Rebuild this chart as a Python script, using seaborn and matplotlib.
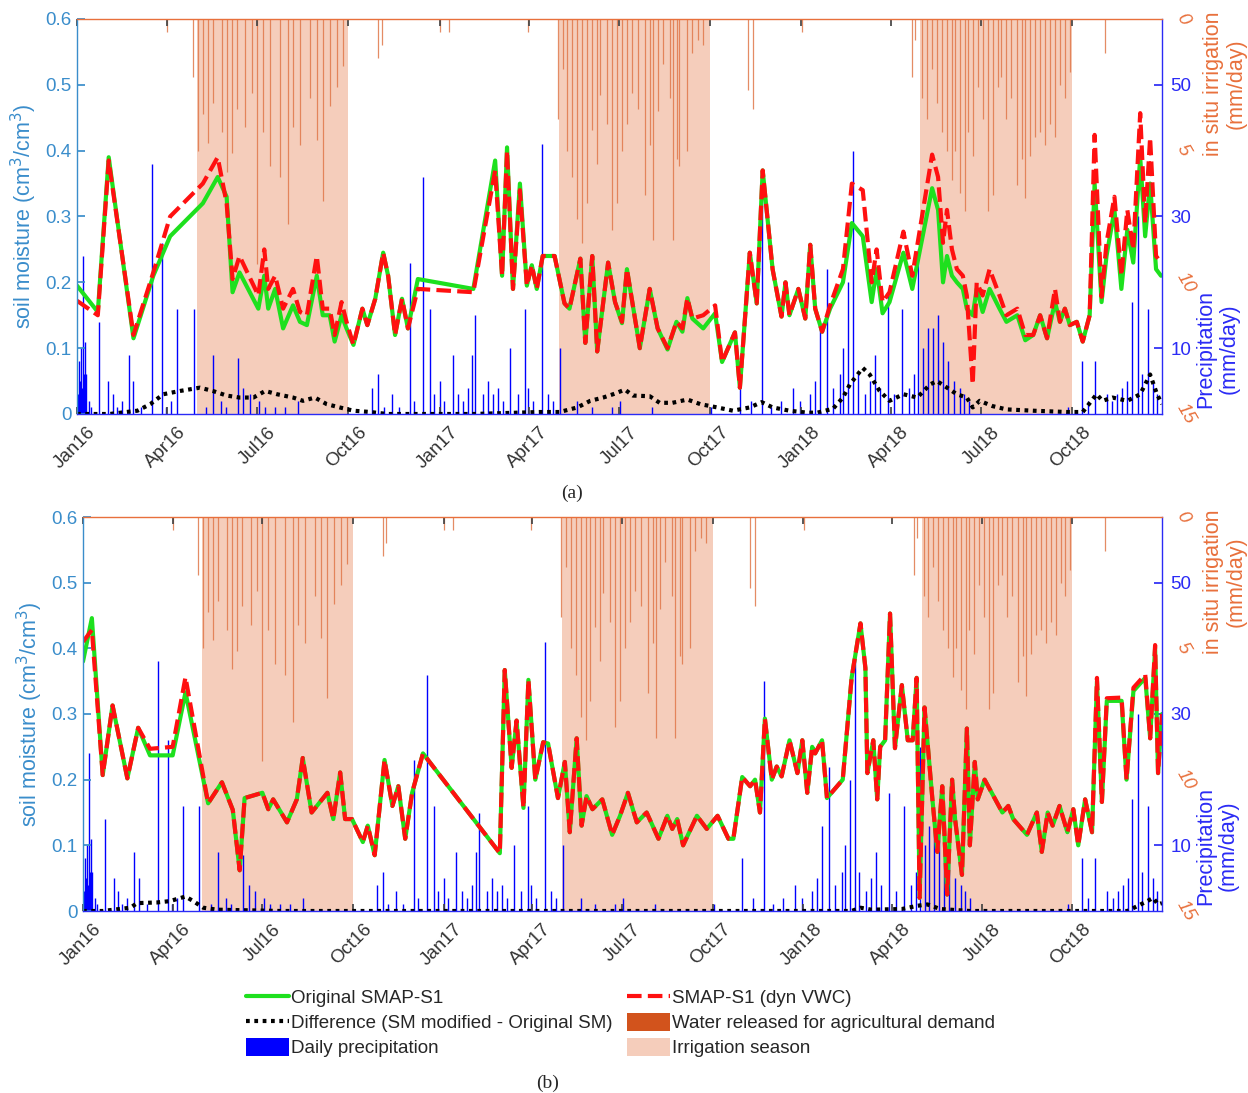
import numpy as np
import pandas as pd
import matplotlib
matplotlib.use("Agg")
import matplotlib.pyplot as plt
import matplotlib.transforms as mtrans
from matplotlib.lines import Line2D
from matplotlib.patches import Patch
import seaborn as sns

START = pd.Timestamp("2016-01-01")
N_DAYS = 1095

# ---------------- panel (a) ----------------
a_days = [0, 21, 32, 57, 77, 94, 127, 142, 151, 157,
          164, 183, 189, 193, 200, 208, 218, 225, 232, 242,
          248, 255, 260, 267, 272, 279, 288, 293, 301, 309,
          314, 321, 328, 334, 344, 400, 422, 429, 434, 440,
          447, 454, 459, 464, 470, 482, 492, 497, 508, 513,
          520, 525, 536, 543, 550, 555, 568, 578, 586, 596,
          605, 611, 616, 621, 632, 644, 651, 664, 669, 679,
          686, 692, 702, 711, 715, 719, 728, 735, 740, 745,
          752, 760, 773, 782, 793, 802, 807, 813, 820, 834,
          843, 863, 869, 874, 878, 883, 888, 894, 898, 904,
          908, 914, 921, 931, 938, 949, 957, 965, 972, 979,
          987, 992, 997, 1002, 1009, 1015, 1022, 1027, 1034, 1039,
          1047, 1054, 1060, 1066, 1073, 1078, 1083, 1089, 1094]
a_orig = [0.195, 0.155, 0.39, 0.115, 0.21, 0.27, 0.32, 0.36, 0.33, 0.185,
          0.215, 0.16, 0.21, 0.16, 0.19, 0.13, 0.165, 0.14, 0.135, 0.21,
          0.15, 0.15, 0.11, 0.15, 0.13, 0.105, 0.16, 0.135, 0.175, 0.245,
          0.21, 0.12, 0.175, 0.13, 0.205, 0.19, 0.385, 0.21, 0.405, 0.19,
          0.35, 0.195, 0.226, 0.19, 0.24, 0.24, 0.168, 0.16, 0.236, 0.108,
          0.24, 0.095, 0.23, 0.17, 0.138, 0.22, 0.10, 0.19, 0.13, 0.098,
          0.14, 0.125, 0.176, 0.145, 0.13, 0.153, 0.079, 0.124, 0.04, 0.245,
          0.168, 0.37, 0.22, 0.148, 0.2, 0.15, 0.19, 0.145, 0.257, 0.16,
          0.125, 0.16, 0.2, 0.29, 0.27, 0.17, 0.22, 0.153, 0.17, 0.245,
          0.19, 0.343, 0.31, 0.2, 0.24, 0.21, 0.2, 0.19, 0.16, 0.15,
          0.19, 0.155, 0.19, 0.16, 0.14, 0.15, 0.112, 0.12, 0.15, 0.115,
          0.17, 0.14, 0.16, 0.135, 0.14, 0.11, 0.15, 0.35, 0.17, 0.24,
          0.31, 0.19, 0.28, 0.23, 0.39, 0.27, 0.35, 0.22, 0.21]
a_dyn = [0.172, 0.15, 0.385, 0.12, 0.215, 0.30, 0.35, 0.39, 0.32, 0.205,
         0.24, 0.18, 0.25, 0.19, 0.21, 0.16, 0.19, 0.155, 0.15, 0.24,
         0.16, 0.16, 0.12, 0.17, 0.14, 0.105, 0.16, 0.135, 0.175, 0.245,
         0.21, 0.12, 0.175, 0.13, 0.19, 0.185, 0.37, 0.21, 0.40, 0.19,
         0.34, 0.195, 0.226, 0.19, 0.24, 0.24, 0.168, 0.16, 0.236, 0.108,
         0.24, 0.095, 0.23, 0.17, 0.14, 0.22, 0.10, 0.19, 0.13, 0.10,
         0.14, 0.13, 0.176, 0.145, 0.15, 0.165, 0.079, 0.124, 0.04, 0.245,
         0.168, 0.37, 0.22, 0.148, 0.2, 0.15, 0.19, 0.145, 0.257, 0.16,
         0.125, 0.165, 0.22, 0.35, 0.34, 0.2, 0.25, 0.17, 0.185, 0.277,
         0.21, 0.394, 0.36, 0.26, 0.31, 0.25, 0.22, 0.21, 0.18, 0.045,
         0.20, 0.18, 0.22, 0.18, 0.15, 0.16, 0.12, 0.12, 0.15, 0.115,
         0.19, 0.14, 0.16, 0.135, 0.14, 0.11, 0.15, 0.424, 0.178, 0.26,
         0.33, 0.21, 0.31, 0.25, 0.457, 0.29, 0.42, 0.24, 0.23]
a_diff_days = [0, 33, 61, 74, 87, 104, 124, 137, 151, 164,
               178, 190, 202, 218, 228, 240, 252, 265, 279, 296,
               313, 340, 400, 467, 487, 505, 518, 531, 541, 553,
               561, 578, 588, 601, 616, 629, 646, 662, 679, 691,
               702, 719, 737, 747, 763, 773, 780, 793, 800, 810,
               820, 834, 848, 861, 868, 878, 888, 898, 904, 911,
               924, 938, 965, 999, 1015, 1029, 1035, 1045, 1060, 1073,
               1083, 1090, 1095]
a_diff = [0, 0, 0.005, 0.015, 0.03, 0.035, 0.04, 0.035, 0.028, 0.025,
          0.025, 0.035, 0.03, 0.025, 0.02, 0.025, 0.015, 0.01, 0.005, 0.003,
          0.0, 0.0, 0.0, 0.003, 0.003, 0.01, 0.02, 0.025, 0.03, 0.037,
          0.028, 0.027, 0.017, 0.017, 0.022, 0.015, 0.01, 0.005, 0.01, 0.018,
          0.01, 0.005, 0.002, 0.002, 0.008, 0.025, 0.045, 0.07, 0.06, 0.035,
          0.02, 0.03, 0.025, 0.045, 0.05, 0.04, 0.03, 0.025, 0.01, 0.02,
          0.012, 0.007, 0.005, 0.003, 0.003, 0.03, 0.02, 0.025, 0.02, 0.03,
          0.06, 0.03, 0.015]

# ---------------- panel (b) ----------------
b_days = [0, 9, 20, 30, 45, 56, 68, 91, 104, 127,
          141, 152, 159, 164, 182, 188, 193, 207, 217, 223,
          232, 248, 254, 261, 266, 273, 284, 289, 296, 306,
          314, 320, 327, 334, 345, 423, 428, 435, 440, 447,
          452, 459, 467, 472, 482, 489, 494, 501, 506, 511,
          517, 527, 537, 545, 553, 562, 572, 584, 593, 598,
          603, 609, 623, 633, 644, 655, 660, 669, 677, 682,
          687, 692, 699, 704, 709, 717, 725, 730, 735, 740,
          743, 750, 755, 771, 780, 789, 794, 796, 802, 806,
          809, 814, 819, 824, 831, 837, 842, 846, 849, 854,
          862, 867, 872, 877, 882, 885, 892, 897, 900, 905,
          908, 915, 933, 939, 944, 958, 968, 973, 979, 984,
          991, 999, 1005, 1010, 1017, 1024, 1029, 1034, 1039, 1054,
          1059, 1066, 1078, 1083, 1088, 1091, 1095]
b_dyn = [0.41, 0.428, 0.207, 0.313, 0.202, 0.279, 0.247, 0.25, 0.356, 0.164,
         0.196, 0.154, 0.062, 0.172, 0.18, 0.155, 0.17, 0.135, 0.17, 0.233,
         0.15, 0.18, 0.14, 0.211, 0.14, 0.14, 0.105, 0.13, 0.085, 0.23,
         0.16, 0.19, 0.11, 0.18, 0.24, 0.088, 0.367, 0.218, 0.29, 0.157,
         0.352, 0.2, 0.257, 0.255, 0.172, 0.227, 0.12, 0.263, 0.13, 0.175,
         0.155, 0.17, 0.116, 0.145, 0.18, 0.135, 0.15, 0.11, 0.145, 0.125,
         0.14, 0.10, 0.145, 0.125, 0.145, 0.11, 0.11, 0.204, 0.19, 0.20,
         0.15, 0.293, 0.2, 0.22, 0.205, 0.26, 0.21, 0.26, 0.18, 0.25,
         0.24, 0.26, 0.172, 0.2, 0.355, 0.438, 0.37, 0.21, 0.26, 0.17,
         0.25, 0.26, 0.453, 0.248, 0.344, 0.26, 0.26, 0.355, 0.02, 0.31,
         0.17, 0.09, 0.19, 0.025, 0.2, 0.14, 0.055, 0.278, 0.1, 0.227,
         0.17, 0.2, 0.15, 0.16, 0.14, 0.116, 0.15, 0.09, 0.15, 0.13,
         0.16, 0.12, 0.155, 0.10, 0.17, 0.12, 0.355, 0.166, 0.324, 0.325,
         0.2, 0.34, 0.36, 0.263, 0.405, 0.21, 0.30]
b_orig = [0.38, 0.446, 0.207, 0.313, 0.202, 0.279, 0.237, 0.237, 0.333, 0.164,
          0.196, 0.154, 0.062, 0.172, 0.18, 0.155, 0.17, 0.135, 0.17, 0.233,
          0.15, 0.18, 0.14, 0.211, 0.14, 0.14, 0.105, 0.13, 0.085, 0.23,
          0.16, 0.19, 0.11, 0.18, 0.24, 0.088, 0.367, 0.218, 0.29, 0.157,
          0.352, 0.2, 0.257, 0.255, 0.172, 0.227, 0.12, 0.263, 0.13, 0.175,
          0.155, 0.17, 0.116, 0.145, 0.18, 0.135, 0.15, 0.11, 0.145, 0.125,
          0.14, 0.10, 0.145, 0.125, 0.145, 0.11, 0.11, 0.204, 0.19, 0.20,
          0.15, 0.293, 0.2, 0.22, 0.205, 0.26, 0.21, 0.26, 0.18, 0.25,
          0.24, 0.26, 0.172, 0.2, 0.355, 0.438, 0.37, 0.21, 0.26, 0.17,
          0.25, 0.26, 0.453, 0.248, 0.344, 0.26, 0.26, 0.355, 0.02, 0.31,
          0.17, 0.09, 0.19, 0.025, 0.2, 0.14, 0.055, 0.278, 0.1, 0.227,
          0.17, 0.2, 0.15, 0.16, 0.14, 0.116, 0.15, 0.09, 0.15, 0.13,
          0.16, 0.12, 0.155, 0.10, 0.17, 0.12, 0.35, 0.166, 0.32, 0.32,
          0.2, 0.335, 0.355, 0.263, 0.40, 0.21, 0.30]
b_diff_days = [0, 20, 48, 55, 75, 88, 104, 112, 122, 136,
               200, 780, 789, 800, 831, 847, 857, 870, 900, 1060,
               1080, 1086, 1091, 1095]
b_diff = [0, 0, 0.005, 0.012, 0.013, 0.015, 0.022, 0.015, 0.005, 0.002,
          0.0, 0.0, 0.005, 0.002, 0.003, 0.008, 0.01, 0.003, 0.0, 0.0,
          0.015, 0.02, 0.01, 0.012]

# ---------------- shared forcing data ----------------
precip_days = [1, 2, 3, 4, 5, 6, 7, 8, 9, 12,
               14, 22, 31, 36, 40, 45, 52, 57, 65, 76,
               86, 90, 95, 101, 118, 130, 137, 145, 150, 162,
               168, 175, 184, 190, 200, 210, 223, 298, 304, 310,
               318, 325, 336, 340, 349, 356, 360, 366, 370, 379,
               385, 390, 395, 399, 402, 410, 415, 420, 425, 430,
               437, 445, 452, 455, 460, 469, 475, 480, 487, 505,
               520, 540, 548, 580, 640, 669, 680, 691, 700, 710,
               723, 730, 740, 745, 750, 757, 763, 770, 773, 778,
               783, 788, 795, 800, 805, 810, 818, 825, 833, 840,
               845, 849, 854, 859, 864, 869, 874, 879, 885, 891,
               895, 900, 1000, 1014, 1020, 1027, 1039, 1045, 1050, 1055,
               1060, 1065, 1071, 1075, 1081, 1086, 1090]
precip_mm = [3, 8, 5, 10, 4, 24, 6, 11, 6, 2,
             1, 14, 5, 3, 1, 2, 9, 5, 1, 38,
             26, 1, 2, 16, 16, 1, 9, 2, 1, 8.5,
             4, 3, 2, 1, 1, 1, 2, 4, 6, 1,
             3, 1, 23, 2, 36, 16, 3, 5, 2, 9,
             3, 2, 4, 9, 15, 3, 5, 3, 4, 2,
             10, 3, 16, 4, 2, 41, 3, 2, 10, 2,
             1, 1, 2, 1, 1, 8, 2, 35, 1, 2,
             4, 2, 3, 5, 13, 22, 4, 6, 10, 20,
             40, 6, 3, 5, 9, 4, 18, 3, 16, 4,
             6, 25, 10, 13, 13, 15, 11, 8, 5, 4,
             3, 2, 1, 8, 2, 8, 3, 2, 3, 4,
             5, 17, 30, 6, 16, 5, 3]
irr_days = [91, 117, 122, 127, 132, 137, 146, 151, 156, 161,
            170, 177, 182, 188, 195, 205, 213, 218, 225, 235,
            242, 248, 255, 262, 268, 304, 308, 366, 375, 455,
            485, 490, 495, 500, 505, 510, 515, 520, 525, 528,
            535, 540, 545, 550, 555, 560, 566, 573, 578, 581,
            586, 591, 598, 601, 606, 608, 616, 621, 627, 632,
            677, 682, 732, 843, 846, 853, 858, 863, 868, 873,
            878, 883, 886, 891, 896, 899, 904, 909, 914, 919,
            924, 929, 933, 938, 943, 949, 954, 957, 962, 967,
            972, 977, 982, 987, 992, 997, 1002, 1037]
irr_mm = [0.5, 2.2, 5.0, 3.6, 4.7, 3.2, 4.3, 5.8, 5.1, 3.4,
          4.1, 2.8, 9.3, 4.3, 5.6, 6.0, 7.8, 4.1, 4.8, 3.0,
          4.6, 6.9, 3.3, 2.6, 1.8, 1.5, 1.0, 0.5, 0.5, 0.5,
          3.8, 1.9, 5.0, 6.0, 7.6, 8.5, 7.0, 4.2, 5.5, 2.9,
          4.0, 8.0, 7.0, 5.0, 4.0, 2.8, 3.4, 6.7, 4.8, 8.4,
          3.5, 1.7, 3.0, 8.4, 5.3, 5.6, 5.0, 1.3, 0.8, 1.0,
          2.7, 3.4, 0.5, 2.2, 0.8, 3.0, 3.8, 1.9, 3.2, 4.3,
          5.0, 6.1, 5.0, 6.6, 7.3, 4.3, 5.2, 2.6, 3.8, 7.3,
          6.7, 2.6, 2.2, 3.8, 3.0, 6.3, 5.3, 6.8, 5.2, 4.5,
          4.3, 4.8, 4.0, 4.5, 2.5, 3.0, 2.0, 1.3]
season_start = ["2016-05-01", "2017-05-01", "2018-05-01"]
season_end = ["2016-10-01", "2017-10-01", "2018-10-01"]

tick_dates = ["2016-01-01", "2016-04-01", "2016-07-01", "2016-10-01",
              "2017-01-01", "2017-04-01", "2017-07-01", "2017-10-01",
              "2018-01-01", "2018-04-01", "2018-07-01", "2018-10-01"]
tick_labels = ["Jan16", "Apr16", "Jul16", "Oct16", "Jan17", "Apr17",
               "Jul17", "Oct17", "Jan18", "Apr18", "Jul18", "Oct18"]
sm_ticks = [0, 0.1, 0.2, 0.3, 0.4, 0.5, 0.6]
precip_ticks = [10, 30, 50]
irr_ticks = [0, 5, 10, 15]

# ---------------- style ----------------
sns.set_theme(style="white")
plt.rcParams["font.family"] = ["Liberation Sans", "DejaVu Sans"]

C_LEFT = "#3A8DCB"
C_BLUE = "#2B2BF5"
C_ORANGE = "#E8703C"
C_GREEN = "#1EE01E"
C_RED = "#FF1010"
C_SEASON = "#F5CDBB"
C_IRR = "#E0784A"
C_PRECIP = "#0000FF"


def to_dates(days):
    return START + pd.to_timedelta(np.asarray(days), unit="D")


def draw_panel(fig, rect, days, orig, dyn, ddays, diff):
    ax = fig.add_axes(rect)
    ax_i = ax.twinx()
    ax_p = ax.twinx()
    ax_i.set_zorder(0)
    ax_p.set_zorder(1)
    ax.set_zorder(2)
    ax.patch.set_visible(False)
    ax_p.patch.set_visible(False)
    ax_i.patch.set_facecolor("white")

    x0, x1 = START, START + pd.Timedelta(days=N_DAYS)

    # irrigation season + water released (inverted right axis)
    for s, e in zip(season_start, season_end):
        ax_i.axvspan(pd.Timestamp(s), pd.Timestamp(e), color=C_SEASON, lw=0, zorder=0)
    ax_i.vlines(to_dates(irr_days), 0, irr_mm, color=C_IRR, lw=0.9, alpha=0.85, zorder=1)
    ax_i.set_ylim(15, 0)

    # precipitation
    ax_p.vlines(to_dates(precip_days), 0, precip_mm, color=C_PRECIP, lw=1.0)
    ax_p.set_ylim(0, 60)

    # soil moisture
    sns.lineplot(x=to_dates(ddays), y=diff, ax=ax, color="black", lw=3,
                 linestyle=(0, (0.9, 1.1)), estimator=None)
    sns.lineplot(x=to_dates(days), y=orig, ax=ax, color=C_GREEN, lw=3, estimator=None)
    sns.lineplot(x=to_dates(days), y=dyn, ax=ax, color=C_RED, lw=3,
                 linestyle=(0, (3.5, 1.5)), estimator=None)
    ax.set_ylim(0, 0.6)
    ax.set_xlim(x0, x1)
    ax.set_xlabel("")

    # spines
    for a in (ax_i, ax_p):
        for sp in a.spines.values():
            sp.set_visible(False)
    ax.spines["left"].set_color(C_LEFT)
    ax.spines["bottom"].set_color(C_BLUE)
    ax.spines["right"].set_color(C_BLUE)
    ax.spines["top"].set_color(C_ORANGE)
    for sp in ax.spines.values():
        sp.set_linewidth(1.0)
        sp.set_visible(True)

    # left ticks
    ax.set_yticks(sm_ticks)
    ax.set_yticklabels(["0", "0.1", "0.2", "0.3", "0.4", "0.5", "0.6"])
    ax.tick_params(axis="y", left=True, right=False, direction="in", length=6,
                   color=C_LEFT, labelcolor=C_LEFT, labelsize=13.5, pad=4)
    ax.set_ylabel("soil moisture (cm$^3$/cm$^3$)", color=C_LEFT, fontsize=15.5)
    ax.yaxis.set_label_coords(-0.035, 0.5)

    # x ticks
    ax.set_xticks(pd.to_datetime(tick_dates))
    ax.set_xticklabels(tick_labels, rotation=45, ha="right", rotation_mode="anchor")
    ax.tick_params(axis="x", bottom=True, top=True, direction="in", length=5,
                   color="#444444", labelsize=13.5, pad=7, labelcolor="#333333")
    off = mtrans.ScaledTranslation(0.10, 0, fig.dpi_scale_trans)
    for lab in ax.get_xticklabels():
        lab.set_transform(lab.get_transform() + off)

    # precipitation ticks
    ax_p.set_yticks(precip_ticks)
    ax_p.set_yticklabels([str(t) for t in precip_ticks])
    ax_p.tick_params(axis="y", right=True, left=False, direction="in", length=6,
                     color=C_BLUE, labelcolor=C_BLUE, labelsize=13.5, pad=6)
    ax_p.tick_params(axis="x", bottom=False, top=False, labelbottom=False)

    # irrigation ticks
    ax_i.set_yticks(irr_ticks)
    ax_i.set_yticklabels([str(t) for t in irr_ticks], rotation=-60)
    ax_i.tick_params(axis="y", right=True, left=False, length=0,
                     labelcolor=C_ORANGE, labelsize=13.5, pad=8)
    ax_i.tick_params(axis="x", bottom=False, top=False, labelbottom=False)
    for lab in ax_i.get_yticklabels():
        lab.set_fontstyle("italic")
        lab.set_va("center")

    # right-side axis titles
    ax.text(1.058, 0.835, "in situ irrigation\n(mm/day)", transform=ax.transAxes,
            rotation=90, ha="center", va="center", color=C_ORANGE, fontsize=15.5,
            multialignment="center", linespacing=1.1)
    ax.text(1.051, 0.165, "Precipitation\n(mm/day)", transform=ax.transAxes,
            rotation=90, ha="center", va="center", color=C_BLUE, fontsize=15.5,
            multialignment="center", linespacing=1.1)
    return ax


W, H = 1248, 1093
fig = plt.figure(figsize=(W / 100, H / 100), dpi=100)
fig.patch.set_facecolor("white")

draw_panel(fig, [77 / W, 1 - 414 / H, 1085 / W, 395 / H],
           a_days, a_orig, a_dyn, a_diff_days, a_diff)
draw_panel(fig, [83 / W, 1 - 911 / H, 1079 / W, 394 / H],
           b_days, b_orig, b_dyn, b_diff_days, b_diff)

fig.text(572 / W, 1 - 493 / H, "(a)", ha="center", va="center",
         fontsize=14, family=["Liberation Serif", "DejaVu Serif"])
fig.text(548 / W, 1 - 1083 / H, "(b)", ha="center", va="center",
         fontsize=14, family=["Liberation Serif", "DejaVu Serif"])

handles = [
    Line2D([], [], color=C_GREEN, lw=3),
    Line2D([], [], color="black", lw=3, linestyle=(0, (0.9, 1.1))),
    Patch(facecolor=C_PRECIP, edgecolor="none"),
    Line2D([], [], color=C_RED, lw=3, linestyle=(0, (3.5, 1.5))),
    Patch(facecolor="#D2531C", edgecolor="none"),
    Patch(facecolor=C_SEASON, edgecolor="none"),
]
labels = ["Original SMAP-S1", "Difference (SM modified - Original SM)",
          "Daily precipitation", "SMAP-S1 (dyn VWC)",
          "Water released for agricultural demand", "Irrigation season"]
fig.legend(handles, labels, loc="upper left", bbox_to_anchor=(246 / W, 1 - 988 / H),
           ncol=2, frameon=False, fontsize=13.5, handlelength=2.3,
           handleheight=1.1, handletextpad=0.1, columnspacing=0.75,
           labelspacing=0.3, borderaxespad=0, borderpad=0)

fig.savefig("out.png", dpi=100, facecolor="white")
